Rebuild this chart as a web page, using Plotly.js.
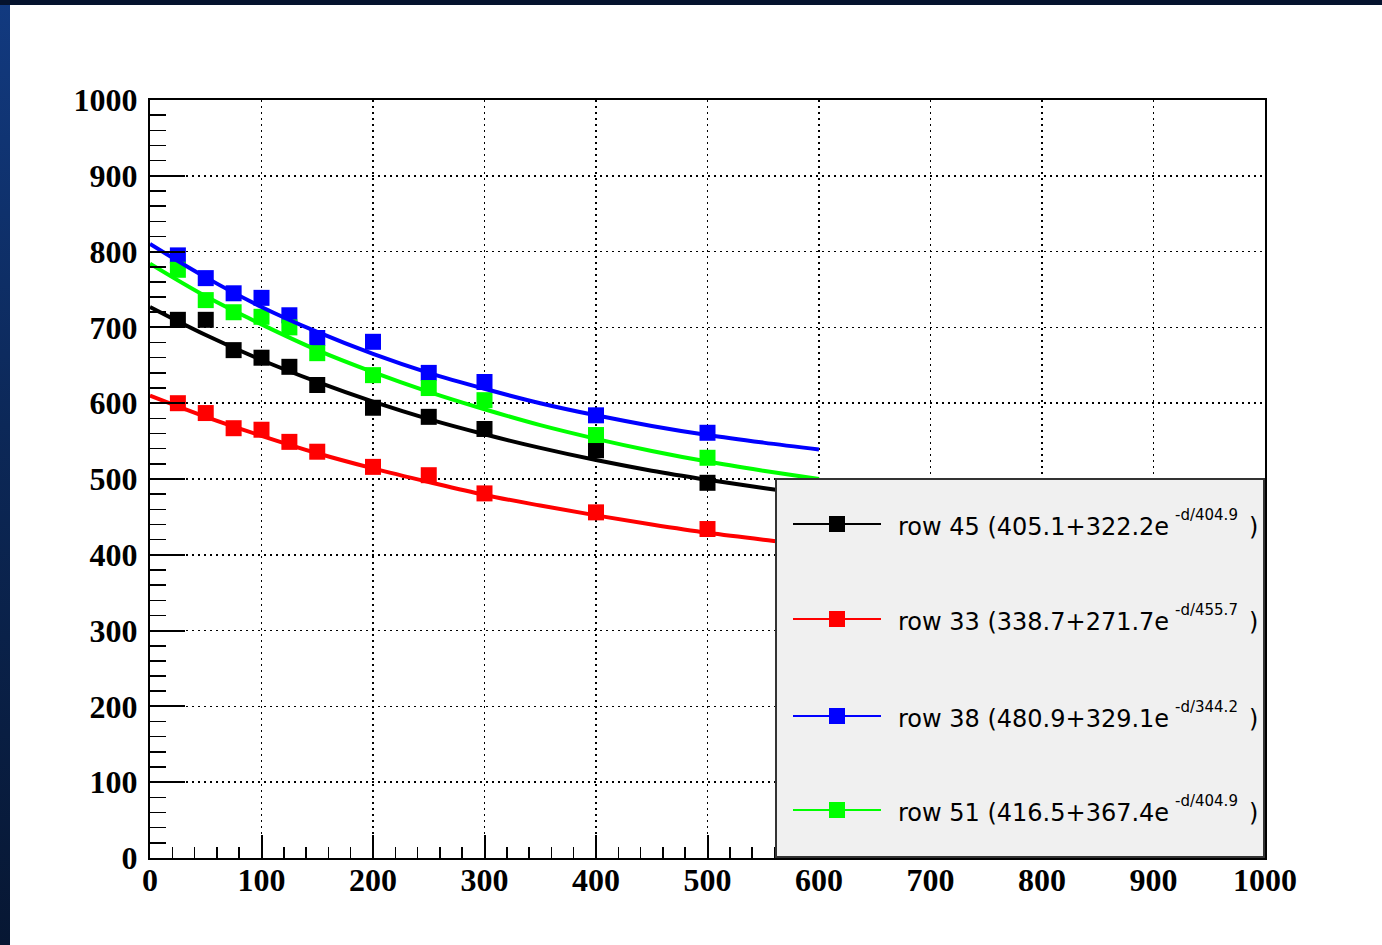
<!DOCTYPE html>
<html><head><meta charset="utf-8">
<script src="https://cdn.plot.ly/plotly-3.0.1.min.js"></script>
<style>
html,body{margin:0;padding:0;width:1382px;height:945px;overflow:hidden;background:linear-gradient(to bottom,#123a80 0%,#0c2858 45%,#071733 100%);}
#topbar{position:absolute;left:0;top:0;width:1382px;height:5px;background:#05132e;}
#chart{position:absolute;left:10px;top:5px;width:1372px;height:940px;background:#fff;}
</style></head><body><div id="topbar"></div><div id="chart"></div>
<script>
// measured points
const distances = [25, 50, 75, 100, 125, 150, 200, 250, 300, 400, 500];
const row45 = [710, 710, 670, 660, 648, 624, 594, 582, 566, 538, 495];
const row33 = [600, 587, 567, 565, 549, 536, 516, 505, 481, 456, 434];
const row38 = [795, 765, 745, 739, 716, 686, 681, 640, 628, 584, 561];
const row51 = [776, 736, 720, 714, 700, 666, 637, 620, 604, 558, 528];
// fit curves
const fitX  = [0, 50, 100, 150, 200, 250, 300, 350, 400, 450, 500, 550, 600];
const fit45 = [727, 690, 657, 628, 602, 579, 559, 541, 525, 511, 499, 488, 478];
const fit33 = [610, 582, 557, 534, 514, 496, 479, 465, 452, 440, 429, 420, 412];
const fit38 = [810, 766, 727, 694, 665, 640, 619, 600, 584, 570, 558, 548, 539];
const fit51 = [784, 741, 704, 670, 641, 615, 592, 571, 553, 537, 523, 511, 500];
// legend labels
const rowNames   = ['row 45', 'row 33', 'row 38', 'row 51'];
const fitOffsets = ['405.1', '338.7', '480.9', '416.5'];
const fitAmps    = ['322.2', '271.7', '329.1', '367.4'];
const fitLengths = ['404.9', '455.7', '344.2', '404.9'];
const tickVals   = [0, 100, 200, 300, 400, 500, 600, 700, 800, 900, 1000];

const colors = ['#000000', '#ff0000', '#0000ff', '#00ff00'];
const pointSets = [row45, row33, row38, row51];
const fitSets = [fit45, fit33, fit38, fit51];

const traces = [];
pointSets.forEach((ys, i) => {
  traces.push({x: distances, y: ys, type: 'scatter', mode: 'markers',
    marker: {symbol: 'square', size: 16, color: colors[i]}, showlegend: false, hoverinfo: 'skip'});
});
fitSets.forEach((ys, i) => {
  traces.push({x: fitX, y: ys, type: 'scatter', mode: 'lines',
    line: {color: colors[i], width: 4, shape: 'spline', smoothing: 1}, showlegend: false, hoverinfo: 'skip'});
});

// page pixel -> paper coords (plot area 150..1265 x 100..858 on the page)
const PX = p => (p - 150) / 1115;
const PY = p => (858 - p) / 758;

const shapes = [{type: 'rect', xref: 'paper', yref: 'paper', layer: 'above',
  x0: PX(776), x1: PX(1264), y0: PY(857), y1: PY(479),
  fillcolor: '#f0f0f0', line: {color: '#333333', width: 2}}];
const annotations = [];
const rowY = [524, 619, 716, 810];
const legFont = 'DejaVu Sans, Verdana, sans-serif';
rowNames.forEach((name, i) => {
  const y = rowY[i];
  shapes.push({type: 'line', xref: 'paper', yref: 'paper', layer: 'above',
    x0: PX(793), x1: PX(881), y0: PY(y), y1: PY(y), line: {color: colors[i], width: 2}});
  shapes.push({type: 'rect', xref: 'paper', yref: 'paper', layer: 'above',
    x0: PX(829), x1: PX(845), y0: PY(y + 8), y1: PY(y - 8), fillcolor: colors[i], line: {width: 0}});
  annotations.push({xref: 'paper', yref: 'paper', x: PX(896), y: PY(y + 3), xanchor: 'left', yanchor: 'middle',
    showarrow: false, text: `${name} (${fitOffsets[i]}+${fitAmps[i]}e`,
    font: {family: legFont, size: 24, color: '#000'}});
  annotations.push({xref: 'paper', yref: 'paper', x: PX(1173), y: PY(y - 9), xanchor: 'left', yanchor: 'middle',
    showarrow: false, text: `-d/${fitLengths[i]}`,
    font: {family: legFont, size: 15, color: '#000'}});
  annotations.push({xref: 'paper', yref: 'paper', x: PX(1247), y: PY(y + 3), xanchor: 'left', yanchor: 'middle',
    showarrow: false, text: ')',
    font: {family: legFont, size: 24, color: '#000'}});
});

const tickFont = {family: 'Liberation Serif, Times New Roman, serif', size: 32, color: '#000', weight: 'bold'};
const axisCommon = {range: [0, 1000], tickvals: tickVals, ticktext: tickVals.map(String),
  showline: true, linecolor: '#000', linewidth: 2, mirror: true,
  ticks: 'inside', tickwidth: 2, tickcolor: '#000',
  showgrid: true, gridcolor: '#000', gridwidth: 1.5, griddash: '2px,4px',
  zeroline: false, tickfont: tickFont, fixedrange: true};

const layout = {
  width: 1372, height: 940,
  margin: {l: 140, r: 117, t: 95, b: 87},
  paper_bgcolor: '#ffffff', plot_bgcolor: '#ffffff',
  showlegend: false,
  xaxis: Object.assign({}, axisCommon, {ticklen: 23, ticklabelstandoff: -7,
    minor: {dtick: 20, tick0: 0, ticks: 'inside', ticklen: 11, tickwidth: 1.5, tickcolor: '#000', showgrid: false}}),
  yaxis: Object.assign({}, axisCommon, {ticklen: 35, ticklabelstandoff: 4,
    minor: {dtick: 20, tick0: 0, ticks: 'inside', ticklen: 16, tickwidth: 1.5, tickcolor: '#000', showgrid: false}}),
  shapes: shapes,
  annotations: annotations
};

Plotly.newPlot('chart', traces, layout, {staticPlot: true, displayModeBar: false});
</script>
</body></html>
